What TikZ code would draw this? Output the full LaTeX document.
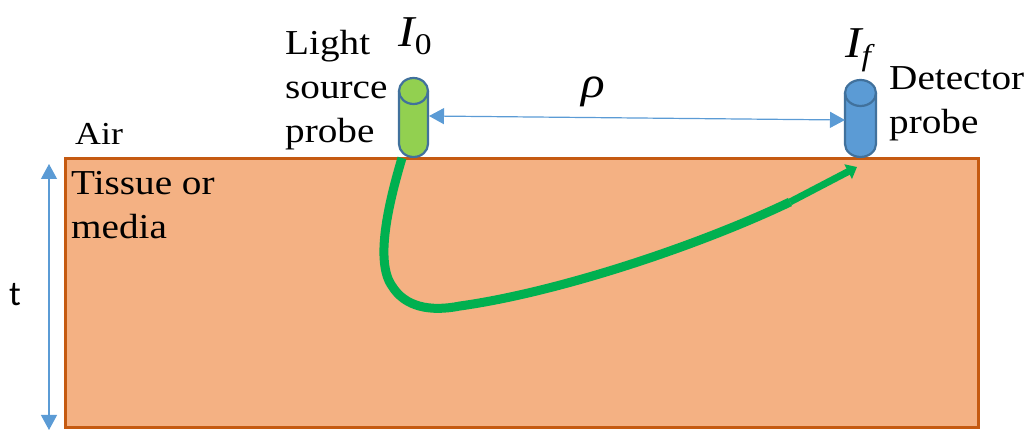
\documentclass[tikz,border=0pt]{standalone}
\usepackage{fontspec}
\setmainfont[FakeStretch=1.12]{Liberation Serif}
\setsansfont{Carlito}
\usetikzlibrary{arrows.meta}
\definecolor{tissuefill}{HTML}{F4B183}
\definecolor{tissueline}{HTML}{C55A11}
\definecolor{sourcefill}{HTML}{92D050}
\definecolor{detectorfill}{HTML}{5B9BD5}
\definecolor{probeline}{HTML}{41719C}
\definecolor{bluearrow}{HTML}{5B9BD5}
\definecolor{pathgreen}{HTML}{00B050}
\newcommand{\subtext}[1]{\raisebox{-8pt}{\fontsize{30}{30}\selectfont #1}}
% left edge, top, right edge, bottom, fill
\newcommand{\probebody}[5]{
    \draw [probeline,fill=#5,line width=2.2pt] (#1,#2+13) arc [start angle=180,end angle=360,x radius=(#3-#1)/2,y radius=13] -- (#3,#4-13) arc [start angle=0,end angle=180,x radius=(#3-#1)/2,y radius=13] -- cycle;
    \draw [probeline,line width=2.2pt] (#1,#2+13) arc [start angle=180,end angle=0,x radius=(#3-#1)/2,y radius=13];
}
\tikzset{
    label/.style={font=\fontsize{35}{44}\selectfont,align=left,anchor=north west,inner sep=0pt},
    mathlabel/.style={font=\fontsize{44}{44}\selectfont\itshape,inner sep=0pt},
    dimarrow/.style={bluearrow,line width=1.2pt,{Triangle[length=15pt,width=16pt]}-{Triangle[length=15pt,width=16pt]}}
}
\begin{document}
\begin{tikzpicture}[x=1pt,y=-1pt]
        \useasboundingbox (0,0) rectangle (1029,430);
        \node (tissue) [draw=tissueline,fill=tissuefill,line width=3pt,minimum width=913pt,minimum height=269pt,inner sep=0pt] at (521.5,293.5) {};
        \probebody{399}{78}{428}{157}{sourcefill}
        \probebody{845}{80}{876}{157}{detectorfill}
        \coordinate (rhoA) at (429,116);
        \coordinate (rhoB) at (845,120);
        \coordinate (tA) at (49,164);
        \coordinate (tB) at (49,430);
        \draw [dimarrow] (rhoA) -- (rhoB);
        \draw [dimarrow] (tA) -- (tB);
        \node (lightlabel) [label] at (285,30) {Light\\source\\probe};
        \node (detectorlabel) [label] at (889,66) {Detector\\probe};
        \node (airlabel) [label,font=\fontsize{32}{36}\selectfont] at (75,123) {Air};
        \node (tissuelabel) [label] at (71,171) {Tissue or\\media};
        \node (tlabel) [font=\sffamily\fontsize{35}{43}\selectfont,inner sep=0pt] at (15,295) {t};
        \node (izero) [mathlabel] at (415,36) {I\subtext{\upshape 0}};
        \node (ifinal) [mathlabel] at (858,50) {I\subtext{f}};
        \node (rho) [mathlabel] at (593,92) {ρ};
        % light path through the tissue
        \coordinate (pathstart) at (402,158);
        \coordinate (pathkink) at (790,202);
        \coordinate (pathend) at (857,167);
        \draw [pathgreen,line width=9pt] (pathstart) .. controls (388,205) and (375,262) .. (392,286) .. controls (405,307) and (430,312) .. (460,306) .. controls (560,292) and (700,245) .. (pathkink);
        \draw [pathgreen,line width=7pt,-{Triangle[length=10pt,width=16pt]}] (pathkink) -- (pathend);
\end{tikzpicture}
\end{document}
